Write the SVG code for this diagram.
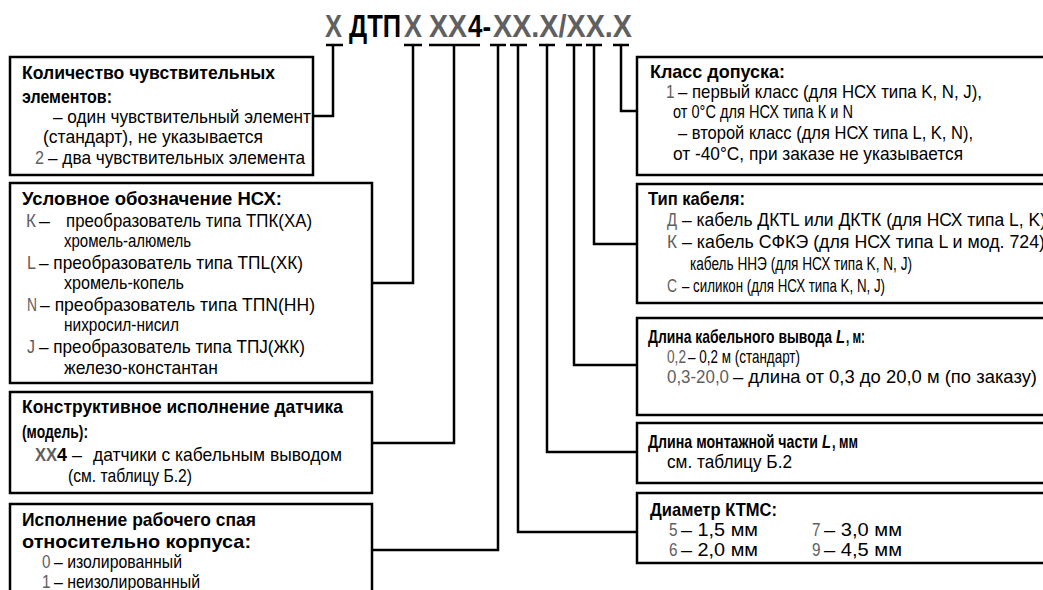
<svg xmlns="http://www.w3.org/2000/svg" width="1043" height="590" viewBox="0 0 1043 590">
<style>
text{font-family:"Liberation Sans",Arial,sans-serif;font-size:19px;fill:#000}
.b{font-weight:bold}
.g{fill:#606060}
.i{font-style:italic}
.box{fill:#fff;stroke:#000;stroke-width:2.5}
.ln{fill:none;stroke:#000;stroke-width:2.5}
.title{font-size:31px;font-weight:bold}
</style>
<rect width="1043" height="590" fill="#fff"/>
<g id="title">
<text class="title g" x="325" y="37" textLength="17" lengthAdjust="spacingAndGlyphs">X</text>
<text class="title" x="349" y="37" textLength="52" lengthAdjust="spacingAndGlyphs">ДТП</text>
<text class="title g" x="404" y="37" textLength="18" lengthAdjust="spacingAndGlyphs">X</text>
<text class="title g" x="429" y="37" textLength="38" lengthAdjust="spacingAndGlyphs">XX</text>
<text class="title" x="468" y="37" textLength="23" lengthAdjust="spacingAndGlyphs">4-</text>
<text class="title g" x="493" y="37" textLength="139" lengthAdjust="spacingAndGlyphs">XX.X/XX.X</text>
</g>
<g id="connectors">
<path class="ln" d="M326 45H343M333 45V116H313"/>
<path class="ln" d="M404 45H422M413 45V283H372"/>
<path class="ln" d="M429 45H480M454 45V443H372"/>
<path class="ln" d="M490 45H506M498 45V550H372"/>
<path class="ln" d="M510 45H527M518 45V532H637"/>
<path class="ln" d="M539 45H555M547 45V452H637"/>
<path class="ln" d="M566 45H582M574 45V365H637"/>
<path class="ln" d="M586 45H602M594 45V244H637"/>
<path class="ln" d="M613 45H629M621 45V111H637"/>
</g>
<g id="n1">
<rect class="box" x="10" y="57" width="303" height="118"/>
<text class="b" x="22" y="79" textLength="253" lengthAdjust="spacingAndGlyphs">Количество чувствительных</text>
<text class="b" x="22" y="103" textLength="90" lengthAdjust="spacingAndGlyphs">элементов:</text>
<text x="53" y="123" textLength="258" lengthAdjust="spacingAndGlyphs">– один чувствительный элемент</text>
<text x="43" y="143" textLength="220" lengthAdjust="spacingAndGlyphs">(стандарт), не указывается</text>
<text class="g" x="35" y="164" textLength="9" lengthAdjust="spacingAndGlyphs">2</text>
<text x="48" y="164" textLength="257" lengthAdjust="spacingAndGlyphs">– два чувствительных элемента</text>
</g>
<g id="n2">
<rect class="box" x="10" y="183" width="362" height="200"/>
<text class="b" x="22" y="205" textLength="260" lengthAdjust="spacingAndGlyphs">Условное обозначение НСХ:</text>
<text class="g" x="26" y="227" textLength="10" lengthAdjust="spacingAndGlyphs">К</text>
<text x="39" y="227" textLength="11" lengthAdjust="spacingAndGlyphs">–</text>
<text x="66" y="227" textLength="246" lengthAdjust="spacingAndGlyphs">преобразователь типа ТПК(ХА)</text>
<text x="64" y="247" textLength="127" lengthAdjust="spacingAndGlyphs">хромель-алюмель</text>
<text class="g" x="27" y="269" textLength="9" lengthAdjust="spacingAndGlyphs">L</text>
<text x="39" y="269" textLength="264" lengthAdjust="spacingAndGlyphs">– преобразователь типа ТПL(ХК)</text>
<text x="64" y="289" textLength="120" lengthAdjust="spacingAndGlyphs">хромель-копель</text>
<text class="g" x="27" y="311" textLength="10" lengthAdjust="spacingAndGlyphs">N</text>
<text x="40" y="311" textLength="275" lengthAdjust="spacingAndGlyphs">– преобразователь типа ТПN(НН)</text>
<text x="64" y="331" textLength="115" lengthAdjust="spacingAndGlyphs">нихросил-нисил</text>
<text class="g" x="27" y="353" textLength="8" lengthAdjust="spacingAndGlyphs">J</text>
<text x="39" y="353" textLength="266" lengthAdjust="spacingAndGlyphs">– преобразователь типа ТПJ(ЖК)</text>
<text x="64" y="374" textLength="154" lengthAdjust="spacingAndGlyphs">железо-константан</text>
</g>
<g id="n3">
<rect class="box" x="10" y="392" width="362" height="101"/>
<text class="b" x="22" y="413" textLength="321" lengthAdjust="spacingAndGlyphs">Конструктивное исполнение датчика</text>
<text class="b" x="22" y="438" textLength="66" lengthAdjust="spacingAndGlyphs">(модель):</text>
<text class="b g" x="35" y="461" textLength="22" lengthAdjust="spacingAndGlyphs">XX</text>
<text class="b" x="57" y="461" textLength="10" lengthAdjust="spacingAndGlyphs">4</text>
<text x="72" y="461" textLength="10" lengthAdjust="spacingAndGlyphs">–</text>
<text x="93" y="461" textLength="249" lengthAdjust="spacingAndGlyphs">датчики с кабельным выводом</text>
<text x="68" y="482" textLength="124" lengthAdjust="spacingAndGlyphs">(см. таблицу Б.2)</text>
</g>
<g id="n4">
<rect class="box" x="10" y="504" width="362" height="100"/>
<text class="b" x="22" y="526" textLength="234" lengthAdjust="spacingAndGlyphs">Исполнение рабочего спая</text>
<text class="b" x="22" y="548" textLength="229" lengthAdjust="spacingAndGlyphs">относительно корпуса:</text>
<text class="g" x="42" y="568" textLength="8.5" lengthAdjust="spacingAndGlyphs">0</text>
<text x="54" y="568" textLength="128" lengthAdjust="spacingAndGlyphs">– изолированный</text>
<text class="g" x="42" y="588" textLength="8.5" lengthAdjust="spacingAndGlyphs">1</text>
<text x="54" y="588" textLength="146" lengthAdjust="spacingAndGlyphs">– неизолированный</text>
</g>
<g id="r1">
<rect class="box" x="637" y="57" width="420" height="118"/>
<text class="b" x="650" y="78" textLength="135" lengthAdjust="spacingAndGlyphs">Класс допуска:</text>
<text class="g" x="666" y="98" textLength="8.5" lengthAdjust="spacingAndGlyphs">1</text>
<text x="678" y="98" textLength="304" lengthAdjust="spacingAndGlyphs">– первый класс (для НСХ типа K, N, J),</text>
<text x="673" y="118" textLength="180" lengthAdjust="spacingAndGlyphs">от 0°С для НСХ типа К и N</text>
<text x="678" y="139" textLength="295" lengthAdjust="spacingAndGlyphs">– второй класс (для НСХ типа L, K, N),</text>
<text x="673" y="160" textLength="290" lengthAdjust="spacingAndGlyphs">от -40°С, при заказе не указывается</text>
</g>
<g id="r2">
<rect class="box" x="637" y="184" width="420" height="119"/>
<text class="b" x="648" y="205" textLength="97" lengthAdjust="spacingAndGlyphs">Тип кабеля:</text>
<text class="g" x="667" y="226" textLength="10" lengthAdjust="spacingAndGlyphs">Д</text>
<text x="682" y="226" textLength="364" lengthAdjust="spacingAndGlyphs">– кабель ДКTL или ДКТК (для НСХ типа L, K)</text>
<text class="g" x="667" y="248" textLength="10" lengthAdjust="spacingAndGlyphs">К</text>
<text x="682" y="248" textLength="363" lengthAdjust="spacingAndGlyphs">– кабель СФКЭ (для НСХ типа L и мод. 724)</text>
<text x="690" y="270" textLength="222" lengthAdjust="spacingAndGlyphs">кабель ННЭ (для НСХ типа K, N, J)</text>
<text class="g" x="667" y="292" textLength="10" lengthAdjust="spacingAndGlyphs">С</text>
<text x="682" y="292" textLength="203" lengthAdjust="spacingAndGlyphs">– силикон (для НСХ типа K, N, J)</text>
</g>
<g id="r3">
<rect class="box" x="637" y="318" width="420" height="97"/>
<text class="b" x="648" y="343" textLength="184" lengthAdjust="spacingAndGlyphs">Длина кабельного вывода</text>
<text class="b i" x="836" y="343" textLength="9" lengthAdjust="spacingAndGlyphs">L</text>
<text class="b" x="846" y="343" textLength="19" lengthAdjust="spacingAndGlyphs">, м:</text>
<text class="g" x="667" y="363" textLength="19" lengthAdjust="spacingAndGlyphs">0,2</text>
<text x="688" y="363" textLength="112" lengthAdjust="spacingAndGlyphs">– 0,2 м (стандарт)</text>
<text class="g" x="667" y="383" textLength="62" lengthAdjust="spacingAndGlyphs">0,3-20,0</text>
<text x="733" y="383" textLength="304" lengthAdjust="spacingAndGlyphs">– длина от 0,3 до 20,0 м (по заказу)</text>
</g>
<g id="r4">
<rect class="box" x="637" y="423" width="420" height="60"/>
<text class="b" x="648" y="448" textLength="170" lengthAdjust="spacingAndGlyphs">Длина монтажной части</text>
<text class="b i" x="822" y="448" textLength="9" lengthAdjust="spacingAndGlyphs">L</text>
<text class="b" x="832" y="448" textLength="26" lengthAdjust="spacingAndGlyphs">, мм</text>
<text x="667" y="468" textLength="125" lengthAdjust="spacingAndGlyphs">см. таблицу Б.2</text>
</g>
<g id="r5">
<rect class="box" x="637" y="493" width="420" height="70"/>
<text class="b" x="650" y="516" textLength="127" lengthAdjust="spacingAndGlyphs">Диаметр КТМС:</text>
<text class="g" x="669" y="536" textLength="8.5" lengthAdjust="spacingAndGlyphs">5</text>
<text x="681" y="536" textLength="77" lengthAdjust="spacingAndGlyphs">– 1,5 мм</text>
<text class="g" x="812" y="536" textLength="8.5" lengthAdjust="spacingAndGlyphs">7</text>
<text x="824" y="536" textLength="78" lengthAdjust="spacingAndGlyphs">– 3,0 мм</text>
<text class="g" x="669" y="556" textLength="8.5" lengthAdjust="spacingAndGlyphs">6</text>
<text x="681" y="556" textLength="77" lengthAdjust="spacingAndGlyphs">– 2,0 мм</text>
<text class="g" x="812" y="556" textLength="8.5" lengthAdjust="spacingAndGlyphs">9</text>
<text x="824" y="556" textLength="78" lengthAdjust="spacingAndGlyphs">– 4,5 мм</text>
</g>
</svg>
